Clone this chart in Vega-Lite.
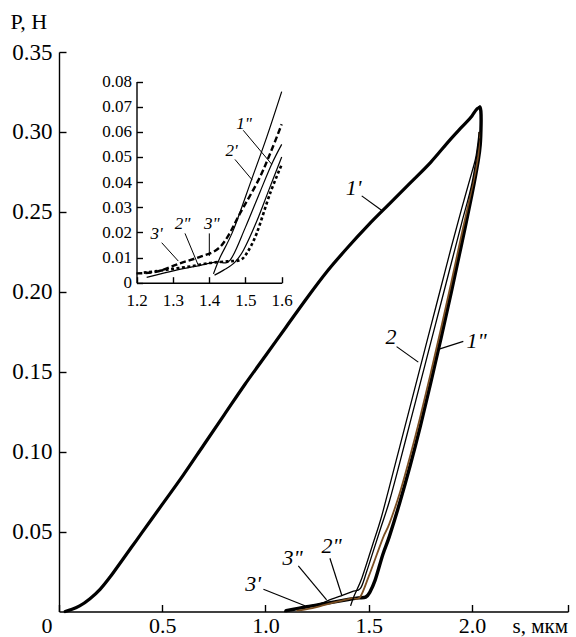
{
"$schema": "https://vega.github.io/schema/vega-lite/v6.json",
"width": 509, "height": 559.5,
"autosize": "none",
"padding": {"left": 59, "top": 52, "right": 8, "bottom": 25.5},
"background": "#ffffff",
"config": {"view": {"stroke": null}, "font": "Liberation Serif",
 "axis": {"domainColor": "#000", "domainWidth": 1.4, "tickColor": "#000", "tickWidth": 1.4, "labelColor": "#000", "labelFont": "Liberation Serif", "titleFont": "Liberation Serif", "titleColor": "#000", "grid": false, "labelOverlap": false, "labelFlush": false}},
"datasets": {
"main": [
{"c":"m1p","i":0,"s":0.03,"P":0},{"c":"m1p","i":1,"s":0.06,"P":0.0012},{"c":"m1p","i":2,"s":0.1,"P":0.0035},{"c":"m1p","i":3,"s":0.15,"P":0.008},{"c":"m1p","i":4,"s":0.2,"P":0.014},{"c":"m1p","i":5,"s":0.25,"P":0.022},{"c":"m1p","i":6,"s":0.3,"P":0.031},{"c":"m1p","i":7,"s":0.35,"P":0.04},{"c":"m1p","i":8,"s":0.4,"P":0.049},{"c":"m1p","i":9,"s":0.5,"P":0.067},{"c":"m1p","i":10,"s":0.6,"P":0.085},{"c":"m1p","i":11,"s":0.7,"P":0.104},{"c":"m1p","i":12,"s":0.8,"P":0.123},{"c":"m1p","i":13,"s":0.9,"P":0.142},{"c":"m1p","i":14,"s":1.0,"P":0.16},{"c":"m1p","i":15,"s":1.1,"P":0.178},{"c":"m1p","i":16,"s":1.2,"P":0.196},{"c":"m1p","i":17,"s":1.3,"P":0.213},{"c":"m1p","i":18,"s":1.4,"P":0.228},{"c":"m1p","i":19,"s":1.5,"P":0.242},{"c":"m1p","i":20,"s":1.6,"P":0.255},{"c":"m1p","i":21,"s":1.7,"P":0.268},{"c":"m1p","i":22,"s":1.8,"P":0.281},{"c":"m1p","i":23,"s":1.9,"P":0.296},{"c":"m1p","i":24,"s":1.95,"P":0.303},{"c":"m1p","i":25,"s":2.0,"P":0.31},{"c":"m1p","i":26,"s":2.025,"P":0.3145},{"c":"m1p","i":27,"s":2.038,"P":0.3155},
{"c":"m1pp","i":0,"s":2.038,"P":0.3155},{"c":"m1pp","i":1,"s":2.043,"P":0.313},{"c":"m1pp","i":2,"s":2.044,"P":0.305},{"c":"m1pp","i":3,"s":2.04,"P":0.292},{"c":"m1pp","i":4,"s":2.03,"P":0.282},{"c":"m1pp","i":5,"s":2.0,"P":0.261},{"c":"m1pp","i":6,"s":1.95,"P":0.23},{"c":"m1pp","i":7,"s":1.9,"P":0.2},{"c":"m1pp","i":8,"s":1.85,"P":0.171},{"c":"m1pp","i":9,"s":1.8,"P":0.143},{"c":"m1pp","i":10,"s":1.75,"P":0.116},{"c":"m1pp","i":11,"s":1.7,"P":0.091},{"c":"m1pp","i":12,"s":1.65,"P":0.068},{"c":"m1pp","i":13,"s":1.6,"P":0.047},{"c":"m1pp","i":14,"s":1.568,"P":0.0355},{"c":"m1pp","i":15,"s":1.531,"P":0.0196},{"c":"m1pp","i":16,"s":1.505,"P":0.012},{"c":"m1pp","i":17,"s":1.485,"P":0.009},{"c":"m1pp","i":18,"s":1.45,"P":0.0085},{"c":"m1pp","i":19,"s":1.4,"P":0.0075},{"c":"m1pp","i":20,"s":1.3,"P":0.0052},{"c":"m1pp","i":21,"s":1.2,"P":0.003},{"c":"m1pp","i":22,"s":1.1,"P":0.0005},
{"c":"m3","i":0,"s":2.035,"P":0.3},{"c":"m3","i":1,"s":2.03,"P":0.285},{"c":"m3","i":2,"s":2.0,"P":0.265},{"c":"m3","i":3,"s":1.95,"P":0.236},{"c":"m3","i":4,"s":1.9,"P":0.206},{"c":"m3","i":5,"s":1.85,"P":0.177},{"c":"m3","i":6,"s":1.8,"P":0.149},{"c":"m3","i":7,"s":1.75,"P":0.122},{"c":"m3","i":8,"s":1.7,"P":0.097},{"c":"m3","i":9,"s":1.65,"P":0.074},{"c":"m3","i":10,"s":1.6,"P":0.055},{"c":"m3","i":11,"s":1.572,"P":0.047},{"c":"m3","i":12,"s":1.54,"P":0.036},{"c":"m3","i":13,"s":1.5,"P":0.022},{"c":"m3","i":14,"s":1.458,"P":0.009},{"c":"m3","i":15,"s":1.42,"P":0.0083},{"c":"m3","i":16,"s":1.375,"P":0.0069},{"c":"m3","i":17,"s":1.31,"P":0.005},{"c":"m3","i":18,"s":1.228,"P":0.0021},{"c":"m3","i":19,"s":1.15,"P":0.0005},
{"c":"m2p","i":0,"s":1.412,"P":0.0035},{"c":"m2p","i":1,"s":1.43,"P":0.01},{"c":"m2p","i":2,"s":1.467,"P":0.021},{"c":"m2p","i":3,"s":1.517,"P":0.041},{"c":"m2p","i":4,"s":1.559,"P":0.058},{"c":"m2p","i":5,"s":1.6,"P":0.078},{"c":"m2p","i":6,"s":1.65,"P":0.103},{"c":"m2p","i":7,"s":1.7,"P":0.128},{"c":"m2p","i":8,"s":1.75,"P":0.153},{"c":"m2p","i":9,"s":1.8,"P":0.178},{"c":"m2p","i":10,"s":1.85,"P":0.203},{"c":"m2p","i":11,"s":1.9,"P":0.228},{"c":"m2p","i":12,"s":1.95,"P":0.252},{"c":"m2p","i":13,"s":2.0,"P":0.275},{"c":"m2p","i":14,"s":2.02,"P":0.285},{"c":"m2p","i":15,"s":2.035,"P":0.3},
{"c":"m2pp","i":0,"s":2.035,"P":0.296},{"c":"m2pp","i":1,"s":2.0,"P":0.268},{"c":"m2pp","i":2,"s":1.95,"P":0.243},{"c":"m2pp","i":3,"s":1.9,"P":0.218},{"c":"m2pp","i":4,"s":1.85,"P":0.193},{"c":"m2pp","i":5,"s":1.8,"P":0.168},{"c":"m2pp","i":6,"s":1.75,"P":0.143},{"c":"m2pp","i":7,"s":1.7,"P":0.118},{"c":"m2pp","i":8,"s":1.65,"P":0.093},{"c":"m2pp","i":9,"s":1.6,"P":0.069},{"c":"m2pp","i":10,"s":1.56,"P":0.053},{"c":"m2pp","i":11,"s":1.52,"P":0.037},{"c":"m2pp","i":12,"s":1.49,"P":0.025},{"c":"m2pp","i":13,"s":1.46,"P":0.0145},{"c":"m2pp","i":14,"s":1.42,"P":0.0125},{"c":"m2pp","i":15,"s":1.375,"P":0.0103},{"c":"m2pp","i":16,"s":1.32,"P":0.0077},{"c":"m2pp","i":17,"s":1.256,"P":0.0044},{"c":"m2pp","i":18,"s":1.2,"P":0.0033},{"c":"m2pp","i":19,"s":1.15,"P":0.0015},{"c":"m2pp","i":20,"s":1.09,"P":0}
],
"inset": [
{"c":"A","i":0,"s":1.412,"P":0.0035},{"c":"A","i":1,"s":1.43,"P":0.01},{"c":"A","i":2,"s":1.467,"P":0.021},{"c":"A","i":3,"s":1.517,"P":0.041},{"c":"A","i":4,"s":1.559,"P":0.058},{"c":"A","i":5,"s":1.6,"P":0.076},
{"c":"C","i":0,"s":1.228,"P":0.0021},{"c":"C","i":1,"s":1.31,"P":0.005},{"c":"C","i":2,"s":1.375,"P":0.0069},{"c":"C","i":3,"s":1.42,"P":0.0083},{"c":"C","i":4,"s":1.458,"P":0.009},{"c":"C","i":5,"s":1.5,"P":0.022},{"c":"C","i":6,"s":1.54,"P":0.036},{"c":"C","i":7,"s":1.572,"P":0.047},{"c":"C","i":8,"s":1.6,"P":0.055},
{"c":"E","i":0,"s":1.415,"P":0.003},{"c":"E","i":1,"s":1.44,"P":0.005},{"c":"E","i":2,"s":1.47,"P":0.008},{"c":"E","i":3,"s":1.495,"P":0.013},{"c":"E","i":4,"s":1.53,"P":0.024},{"c":"E","i":5,"s":1.565,"P":0.037},{"c":"E","i":6,"s":1.6,"P":0.05},
{"c":"B","i":0,"s":1.2,"P":0.0037},{"c":"B","i":1,"s":1.256,"P":0.0044},{"c":"B","i":2,"s":1.32,"P":0.0077},{"c":"B","i":3,"s":1.375,"P":0.0103},{"c":"B","i":4,"s":1.42,"P":0.013},{"c":"B","i":5,"s":1.45,"P":0.018},{"c":"B","i":6,"s":1.485,"P":0.0275},{"c":"B","i":7,"s":1.536,"P":0.0408},{"c":"B","i":8,"s":1.57,"P":0.052},{"c":"B","i":9,"s":1.6,"P":0.063},
{"c":"D","i":0,"s":1.22,"P":0.004},{"c":"D","i":1,"s":1.25,"P":0.0045},{"c":"D","i":2,"s":1.3,"P":0.0055},{"c":"D","i":3,"s":1.35,"P":0.0065},{"c":"D","i":4,"s":1.4,"P":0.0078},{"c":"D","i":5,"s":1.45,"P":0.0085},{"c":"D","i":6,"s":1.485,"P":0.009},{"c":"D","i":7,"s":1.505,"P":0.012},{"c":"D","i":8,"s":1.531,"P":0.0196},{"c":"D","i":9,"s":1.568,"P":0.0355},{"c":"D","i":10,"s":1.6,"P":0.047}
],
"mainNotes": [
{"t":"1'","s":1.427,"P":0.265,"a":1.466,"b":0.26,"a2":1.562,"b2":0.251},
{"t":"2","s":1.608,"P":0.172,"a":1.635,"b":0.1657,"a2":1.74,"b2":0.156},
{"t":"1\"","s":2.023,"P":0.1695,"a":1.958,"b":0.169,"a2":1.837,"b2":0.164},
{"t":"3'","s":0.94,"P":0.0172,"a":0.99,"b":0.0139,"a2":1.191,"b2":0.0036},
{"t":"3\"","s":1.131,"P":0.0335,"a":1.159,"b":0.0285,"a2":1.296,"b2":0.0072},
{"t":"2\"","s":1.32,"P":0.041,"a":1.312,"b":0.0333,"a2":1.369,"b2":0.0103}
],
"insetNotes": [
{"t":"1\"","s":1.496,"P":0.0633,"a":1.494,"b":0.0606,"a2":1.5725,"b2":0.0471},
{"t":"2'","s":1.462,"P":0.0523,"a":1.4713,"b":0.049,"a2":1.519,"b2":0.0408},
{"t":"3'","s":1.2556,"P":0.0192,"a":1.2694,"b":0.0159,"a2":1.3152,"b2":0.0086},
{"t":"2\"","s":1.3267,"P":0.0233,"a":1.3336,"b":0.0196,"a2":1.37,"b2":0.007},
{"t":"3\"","s":1.4072,"P":0.0233,"a":1.4006,"b":0.0196,"a2":1.4006,"b2":0.0106}
]
},
"layer": [
{"layer": [
 {"data": {"name": "main"}, "transform": [{"filter": {"field": "c", "equal": "m1p"}}],
  "mark": {"type": "line", "color": "#000", "strokeWidth": 3.2, "strokeJoin": "round", "strokeCap": "round", "interpolate": "monotone"},
  "encoding": {
   "x": {"field": "s", "type": "quantitative", "scale": {"domain": [0, 2.465], "nice": false, "zero": false},
     "axis": {"values": [0, 0.5, 1, 1.5, 2, 2.465], "labelExpr": "datum.value > 2.4 ? '' : (datum.value == 0 ? '0' : format(datum.value, '.1f'))",
       "labelAlign": {"condition": {"test": "datum.value == 0", "value": "right"}, "value": "center"},
       "labelOffset": {"condition": {"test": "datum.value == 0", "value": -7}, "value": 0},
       "labelFont": "Liberation Serif", "labelFontSize": 22, "labelPadding": 11, "tickSize": -7,
       "title": "s, мкм", "titleFont": "Liberation Serif", "titleX": 453, "titleY": 21, "titleAlign": "left", "titleBaseline": "alphabetic", "titleFontSize": 21, "titleFontWeight": "normal", "titleAngle": 0}},
   "y": {"field": "P", "type": "quantitative", "scale": {"domain": [0, 0.35], "nice": false, "zero": false},
     "axis": {"values": [0.05, 0.1, 0.15, 0.2, 0.25, 0.3, 0.35], "format": ".2f", "labelFont": "Liberation Serif", "labelFontSize": 23, "labelPadding": 14, "tickSize": -7,
       "title": "P, Н", "titleFont": "Liberation Serif", "titleX": -49, "titleY": -24, "titleAlign": "left", "titleBaseline": "alphabetic", "titleFontSize": 22, "titleFontWeight": "normal", "titleAngle": 0}},
   "order": {"field": "i", "type": "quantitative"}}},
 {"data": {"name": "main"}, "transform": [{"filter": {"field": "c", "equal": "m1pp"}}],
  "mark": {"type": "line", "color": "#000", "strokeWidth": 3.4, "strokeJoin": "round", "strokeCap": "round", "interpolate": "cardinal"},
  "encoding": {"x": {"field": "s", "type": "quantitative"}, "y": {"field": "P", "type": "quantitative"}, "order": {"field": "i", "type": "quantitative"}}},
 {"data": {"name": "main"}, "transform": [{"filter": {"field": "c", "equal": "m3"}}],
  "mark": {"type": "line", "color": "#7a4e22", "strokeWidth": 1.8, "interpolate": "cardinal"},
  "encoding": {"x": {"field": "s", "type": "quantitative"}, "y": {"field": "P", "type": "quantitative"}, "order": {"field": "i", "type": "quantitative"}}},
 {"data": {"name": "main"}, "transform": [{"filter": {"field": "c", "oneOf": ["m2p", "m2pp"]}}],
  "mark": {"type": "line", "color": "#000", "strokeWidth": 1.3, "interpolate": "cardinal"},
  "encoding": {"x": {"field": "s", "type": "quantitative"}, "y": {"field": "P", "type": "quantitative"}, "detail": {"field": "c"}, "order": {"field": "i", "type": "quantitative"}}},
 {"data": {"name": "mainNotes"}, "mark": {"type": "rule", "color": "#000", "strokeWidth": 1.2},
  "encoding": {"x": {"field": "a", "type": "quantitative"}, "y": {"field": "b", "type": "quantitative"}, "x2": {"field": "a2"}, "y2": {"field": "b2"}}},
 {"data": {"name": "mainNotes"}, "mark": {"type": "text", "font": "Liberation Serif", "fontStyle": "italic", "fontSize": 22, "align": "center", "baseline": "middle", "color": "#000"},
  "encoding": {"x": {"field": "s", "type": "quantitative"}, "y": {"field": "P", "type": "quantitative"}, "text": {"field": "t"}}}
]},
{"layer": [
 {"data": {"name": "inset"}, "transform": [{"filter": {"field": "c", "oneOf": ["A", "C", "E"]}}],
  "mark": {"type": "line", "color": "#000", "strokeWidth": 1.2, "interpolate": "cardinal"},
  "encoding": {
   "x": {"field": "s", "type": "quantitative", "scale": {"domain": [1.2, 1.6], "range": [77.5, 222.7], "nice": false, "zero": false},
     "axis": {"orient": "bottom", "offset": -328.8, "values": [1.2, 1.3, 1.4, 1.5, 1.6], "format": ".1f", "labelFont": "Liberation Serif", "labelFontSize": 17, "labelPadding": 15.5, "tickSize": -6, "title": null}},
   "y": {"field": "P", "type": "quantitative", "scale": {"domain": [0, 0.08], "range": [230.7, 29.5], "nice": false, "zero": false},
     "axis": {"orient": "left", "offset": -77.5, "values": [0, 0.01, 0.02, 0.03, 0.04, 0.05, 0.06, 0.07, 0.08], "labelExpr": "datum.value == 0 ? '0' : format(datum.value, '.2f')", "labelFont": "Liberation Serif", "labelFontSize": 17, "labelPadding": 11, "tickSize": -6, "title": null}},
   "detail": {"field": "c"},
   "order": {"field": "i", "type": "quantitative"}}},
 {"data": {"name": "inset"}, "transform": [{"filter": {"field": "c", "equal": "B"}}],
  "mark": {"type": "line", "color": "#000", "strokeWidth": 2.4, "strokeDash": [6, 3], "interpolate": "cardinal"},
  "encoding": {"x": {"field": "s", "type": "quantitative"}, "y": {"field": "P", "type": "quantitative"}, "order": {"field": "i", "type": "quantitative"}}},
 {"data": {"name": "inset"}, "transform": [{"filter": {"field": "c", "equal": "D"}}],
  "mark": {"type": "line", "color": "#000", "strokeWidth": 2.6, "strokeDash": [3, 2.5], "interpolate": "cardinal"},
  "encoding": {"x": {"field": "s", "type": "quantitative"}, "y": {"field": "P", "type": "quantitative"}, "order": {"field": "i", "type": "quantitative"}}},
 {"data": {"name": "insetNotes"}, "mark": {"type": "rule", "color": "#000", "strokeWidth": 1},
  "encoding": {"x": {"field": "a", "type": "quantitative"}, "y": {"field": "b", "type": "quantitative"}, "x2": {"field": "a2"}, "y2": {"field": "b2"}}},
 {"data": {"name": "insetNotes"}, "mark": {"type": "text", "font": "Liberation Serif", "fontStyle": "italic", "fontSize": 17, "align": "center", "baseline": "middle", "color": "#000"},
  "encoding": {"x": {"field": "s", "type": "quantitative"}, "y": {"field": "P", "type": "quantitative"}, "text": {"field": "t"}}}
]}
],
"resolve": {"scale": {"x": "independent", "y": "independent"}}
}
